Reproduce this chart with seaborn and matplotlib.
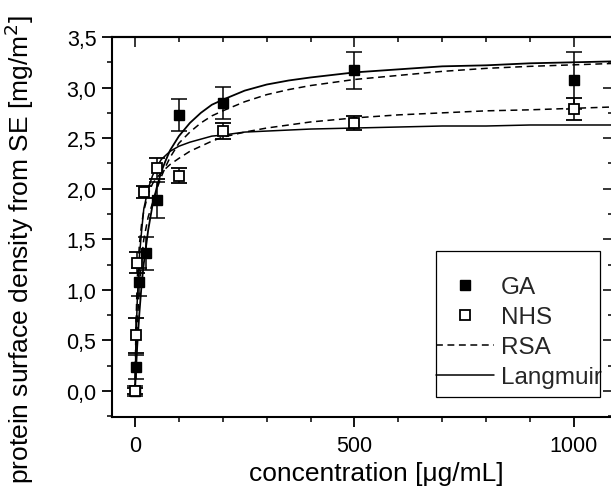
import matplotlib
matplotlib.use("Agg")
import matplotlib.pyplot as plt
from matplotlib.lines import Line2D
from matplotlib.patches import Rectangle
from matplotlib.ticker import MultipleLocator, FixedLocator, NullFormatter
import seaborn as sns

# measured points (concentration in ug/mL, surface density in mg/m2)
ga_x = [0, 2, 10, 25, 50, 100, 200, 500, 1000]
ga_y = [0.0, 0.24, 1.08, 1.36, 1.89, 2.73, 2.85, 3.17, 3.07]
ga_err = [0.05, 0.12, 0.14, 0.16, 0.18, 0.16, 0.16, 0.18, 0.28]

nhs_x = [0, 2, 5, 20, 50, 100, 200, 500, 1000]
nhs_y = [0.0, 0.55, 1.27, 1.97, 2.20, 2.13, 2.57, 2.65, 2.79]
nhs_err = [0.03, 0.17, 0.10, 0.06, 0.10, 0.07, 0.08, 0.07, 0.11]

# fitted curves
fit_x = [0, 2, 5, 10, 15, 20, 30, 40, 50, 60, 70, 80, 100, 125, 150, 175, 200,
         250, 300, 350, 400, 500, 600, 700, 800, 900, 1100]
ga_langmuir = [0, 0.19, 0.44, 0.77, 1.05, 1.26, 1.59, 1.84, 2.02, 2.17, 2.28, 2.38, 2.52,
               2.65, 2.75, 2.83, 2.88, 2.97, 3.03, 3.07, 3.10, 3.15, 3.18, 3.21, 3.22, 3.24, 3.26]
ga_rsa = [0, 0.30, 0.65, 1.02, 1.30, 1.50, 1.72, 1.86, 2.00, 2.12, 2.22, 2.31, 2.45,
          2.56, 2.65, 2.72, 2.77, 2.86, 2.93, 2.98, 3.02, 3.08, 3.12, 3.16, 3.19, 3.21, 3.24]
nhs_langmuir = [0, 0.44, 0.88, 1.33, 1.58, 1.80, 2.00, 2.13, 2.22, 2.29, 2.33, 2.37, 2.42,
                2.46, 2.49, 2.52, 2.53, 2.56, 2.57, 2.58, 2.59, 2.60, 2.61, 2.62, 2.62, 2.63, 2.63]
nhs_rsa = [0, 0.60, 1.10, 1.45, 1.65, 1.78, 1.95, 2.05, 2.11, 2.16, 2.20, 2.24, 2.30,
           2.37, 2.42, 2.47, 2.51, 2.56, 2.60, 2.63, 2.66, 2.70, 2.73, 2.75, 2.77, 2.78, 2.81]

y_ticks = [0.0, 0.5, 1.0, 1.5, 2.0, 2.5, 3.0, 3.5]
y_tick_labels = ["0,0", "0,5", "1,0", "1,5", "2,0", "2,5", "3,0", "3,5"]
x_ticks = [0, 500, 1000]
x_tick_labels = ["0", "500", "1000"]

sns.set_theme(style="ticks")
plt.rcParams["font.family"] = ["Liberation Sans", "DejaVu Sans"]
plt.rcParams["axes.linewidth"] = 1.5

fig = plt.figure(figsize=(6.11, 4.89), dpi=100)
ax = fig.add_axes([112 / 611, 71 / 489, 501 / 611, 380 / 489])

# fits
sns.lineplot(x=fit_x, y=ga_langmuir, ax=ax, color="black", lw=1.3, zorder=2)
sns.lineplot(x=fit_x, y=nhs_langmuir, ax=ax, color="black", lw=1.1, zorder=2)
sns.lineplot(x=fit_x, y=ga_rsa, ax=ax, color="black", lw=1.1, linestyle=(0, (4.5, 3)), zorder=2)
sns.lineplot(x=fit_x, y=nhs_rsa, ax=ax, color="black", lw=1.1, linestyle=(0, (4.5, 3)), zorder=2)

# data with error bars
ax.errorbar(ga_x, ga_y, yerr=ga_err, fmt="s", color="black", mfc="black", mec="black",
            ms=7.5, capsize=6, elinewidth=1.1, capthick=1.1, zorder=3)
ax.errorbar(nhs_x, nhs_y, yerr=nhs_err, fmt="s", color="black", mfc="white", mec="black",
            mew=1.3, ms=7.5, capsize=6, elinewidth=1.1, capthick=1.1, zorder=4)

ax.set_xlim(-52.4, 1089)
ax.set_ylim(-0.257, 3.5)

ax.xaxis.set_major_locator(FixedLocator(x_ticks))
ax.set_xticklabels(x_tick_labels)
ax.xaxis.set_minor_locator(MultipleLocator(100))
ax.yaxis.set_major_locator(FixedLocator(y_ticks))
ax.set_yticklabels(y_tick_labels)
ax.yaxis.set_minor_locator(MultipleLocator(0.25))

ax.tick_params(which="major", direction="out", length=7.2, width=1.3, labelsize=15.5,
               colors="black", pad=4)
ax.tick_params(which="minor", direction="out", length=3.6, width=1.3)
ax.tick_params(axis="x", which="major", pad=6)

# mirrored inward ticks on top and right
top = ax.secondary_xaxis("top")
top.xaxis.set_major_locator(FixedLocator(x_ticks))
top.xaxis.set_minor_locator(MultipleLocator(100))
top.xaxis.set_major_formatter(NullFormatter())
top.tick_params(which="major", direction="in", length=7.2, width=1.3)
top.tick_params(which="minor", direction="in", length=3.6, width=1.3)
right = ax.secondary_yaxis("right")
right.yaxis.set_major_locator(FixedLocator(y_ticks))
right.yaxis.set_minor_locator(MultipleLocator(0.25))
right.yaxis.set_major_formatter(NullFormatter())
right.tick_params(which="major", direction="in", length=7.2, width=1.3)
right.tick_params(which="minor", direction="in", length=3.6, width=1.3)
for sp in ax.spines.values():
    sp.set_color("black")

ax.set_xlabel("concentration [\u03bcg/mL]", fontsize=19, color="black")
ax.set_ylabel("protein surface density from SE [mg/m$^2$]", fontsize=19, color="black")
ax.xaxis.set_label_coords(0.527, -0.116)
ax.yaxis.set_label_coords(-0.152, 0.442)

handles = [
    Line2D([], [], marker="s", ls="none", color="black", mfc="black", ms=7),
    Line2D([], [], marker="s", ls="none", color="black", mfc="white", mew=1.3, ms=7),
    Line2D([], [], color="black", lw=1.1, ls=(0, (4.5, 3))),
    Line2D([], [], color="black", lw=1.1),
]
ax.legend(handles, ["GA", "NHS", "RSA", "Langmuir"], loc="upper left",
          bbox_to_anchor=(436 / 611, (489 - 277) / 489), bbox_transform=fig.transFigure,
          frameon=False, borderpad=0, borderaxespad=0, handlelength=2.38,
          handletextpad=0.3, labelspacing=0.33, fontsize=17.5)
fig.patches.append(Rectangle((436 / 611, 91 / 489), 164 / 611, 146 / 489,
                             transform=fig.transFigure, fill=False, ec="black", lw=0.9))

fig.savefig("out.png", dpi=100)
